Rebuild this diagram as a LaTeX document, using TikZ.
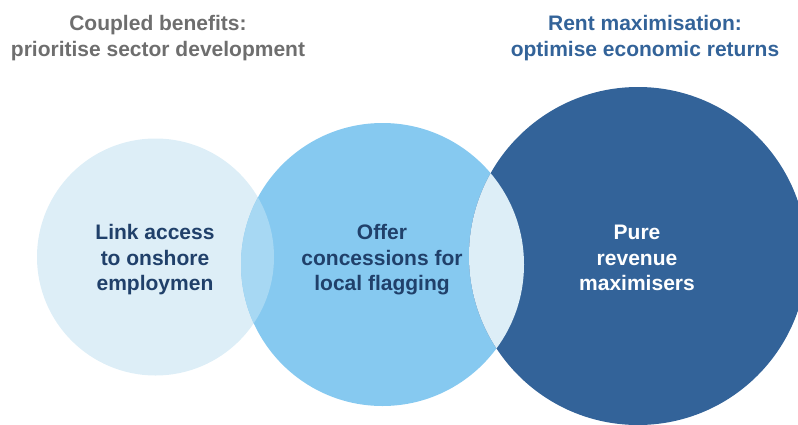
\documentclass[tikz,border=0pt]{standalone}
\usepackage{fontspec}
\setmainfont{Liberation Sans}
\begin{document}
\begin{tikzpicture}[x=1pt,y=-1pt]
        %colores
        \definecolor{pale}{HTML}{DDEEF7}
        \definecolor{sky}{HTML}{86C9F0}
        \definecolor{mix}{HTML}{A7D8F3}
        \definecolor{navy}{HTML}{336399}
        \definecolor{ink}{HTML}{20406A}
        \definecolor{gris}{HTML}{6E6E6E}
        \tikzset{
            label txt/.style={align=center,font=\bfseries\fontsize{21}{25.5}\selectfont,inner sep=0pt},
            head txt/.style={label txt,font=\bfseries\fontsize{21}{26}\selectfont}
        }

        % Marco
        \clip (0,0) rectangle (798,424);

        % Circulos
        \fill[pale] (155.5,257) circle (118.5pt);
        \fill[sky] (382.5,264.5) circle (141.5pt);
        \fill[navy] (638,256) circle (169pt);

        % Intersecciones
        \begin{scope}
            \clip (155.5,257) circle (118.5pt);
            \fill[mix] (382.5,264.5) circle (141.5pt);
        \end{scope}
        \begin{scope}
            \clip (382.5,264.5) circle (141.5pt);
            \fill[pale] (638,256) circle (169pt);
        \end{scope}

        % Titulos
        \node[head txt,text=gris] (coupled) at (158,38) {Coupled benefits:\\prioritise sector development};
        \node[head txt,text=navy] (rent) at (645,38) {Rent maximisation:\\optimise economic returns};

        % Textos
        \node[label txt,text=ink] (link) at (155,260) {Link access\\to onshore\\employmen};
        \node[label txt,text=ink] (offer) at (382,260) {Offer\\concessions for\\local flagging};
        \node[label txt,text=white] (pure) at (637,258) {Pure\\revenue\\maximisers};
    \end{tikzpicture}
\end{document}
